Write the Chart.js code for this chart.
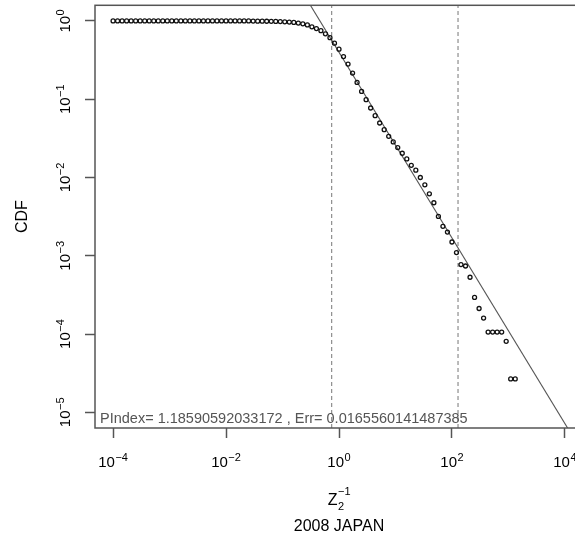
<!DOCTYPE html>
<html>
<head>
<meta charset="utf-8">
<title>CDF - 2008 JAPAN</title>
<script src="https://cdn.jsdelivr.net/npm/chart.js@4.4.1/dist/chart.umd.min.js"></script>
<style>
  html, body { margin: 0; padding: 0; background: #fff; overflow: hidden; }
  #wrap { width: 600px; height: 538px; }
</style>
</head>
<body>
<div id="wrap"><canvas id="cdfChart" width="600" height="538"></canvas></div>
<script>
// ==========================================
// 1. DATA
// ==========================================

// inverse Z_2 values (log spaced bins)
const zValues = [
  1.000e-4, 1.202e-4, 1.445e-4, 1.738e-4, 2.089e-4, 2.512e-4, 3.020e-4, 3.631e-4, 4.365e-4, 5.248e-4,
  6.310e-4, 7.586e-4, 9.120e-4, 1.096e-3, 1.318e-3, 1.585e-3, 1.905e-3, 2.291e-3, 2.754e-3, 3.311e-3,
  3.981e-3, 4.786e-3, 5.754e-3, 6.918e-3, 8.318e-3, 1.000e-2, 1.202e-2, 1.445e-2, 1.738e-2, 2.089e-2,
  2.512e-2, 3.020e-2, 3.631e-2, 4.365e-2, 5.248e-2, 6.310e-2, 7.586e-2, 9.120e-2, 0.1096, 0.1318,
  0.1585, 0.1905, 0.2291, 0.2754, 0.3311, 0.3981, 0.4786, 0.5754, 0.6918, 0.8318,
  1.000, 1.202, 1.445, 1.738, 2.089, 2.512, 3.020, 3.631, 4.365, 5.248,
  6.310, 7.586, 9.120, 10.96, 13.18, 15.85, 19.05, 22.91, 27.54, 33.11,
  39.81, 47.86, 57.54, 69.18, 83.18, 100.0, 120.2, 144.5, 173.8, 208.9,
  251.2, 302.0, 363.1, 436.5, 524.8, 631.0, 758.6, 912.0, 1096, 1318
];

// complementary cumulative share for each bin
const cdfValues = [
  1, 1, 1, 1, 1, 1, 1, 1, 1, 1,
  1, 1, 1, 1, 1, 1, 1, 1, 1, 1,
  1, 1, 1, 1, 1, 1, 1, 1, 1, 1,
  1, 0.997, 0.995, 0.994, 0.992, 0.990, 0.986, 0.981, 0.975, 0.967,
  0.957, 0.940, 0.918, 0.890, 0.842, 0.800, 0.752, 0.684, 0.612, 0.520,
  0.436, 0.351, 0.281, 0.216, 0.164, 0.126, 0.0986, 0.0773, 0.0616, 0.0497,
  0.0409, 0.0336, 0.0285, 0.0241, 0.0204, 0.0173, 0.0143, 0.0124, 0.0100, 0.00807,
  0.00619, 0.00476, 0.00318, 0.00238, 0.00201, 0.00150, 0.00110, 0.000773, 0.000741, 0.000532,
  0.000294, 0.000212, 0.000160, 0.000106, 0.000106, 0.000106, 0.000106, 0.0000807, 0.0000267, 0.0000267
];

// axis decades
const xTickExps = [-4, -2, 0, 2, 4];
const yTickExps = [-5, -4, -3, -2, -1, 0];

// fit window (dashed cut lines)
const cutLow = 0.743;
const cutHigh = 128;

// power-law fit
const pIndex = 1.18590592033172;
const pErr = 0.0165560141487385;
const fitScale = 0.398;
const fitX = [0.1, 100000];

const yTitle = 'CDF';
const subTitle = '2008 JAPAN';

// ==========================================
// 2. CHART
// ==========================================

const xMin = Math.pow(10, -4.32), xMax = Math.pow(10, 4.32);
const yMin = Math.pow(10, -5.2), yMax = Math.pow(10, 0.2);
const axisColor = '#555';
const fontFamily = "'Liberation Sans', Arial, Helvetica, sans-serif";

// draws "10" with a raised exponent, centred on x
function drawPower(ctx, x, y, exp, size) {
  const baseFont = size + 'px ' + fontFamily;
  const expFont = Math.round(size * 0.73) + 'px ' + fontFamily;
  const expText = (exp < 0 ? '\u2212' : '') + Math.abs(exp);
  ctx.font = baseFont;
  const wBase = ctx.measureText('10').width;
  ctx.font = expFont;
  const wExp = ctx.measureText(expText).width;
  const start = x - (wBase + wExp + 0.5) / 2;
  ctx.textAlign = 'left';
  ctx.textBaseline = 'alphabetic';
  ctx.font = baseFont;
  ctx.fillText('10', start, y);
  ctx.font = expFont;
  ctx.fillText(expText, start + wBase + 0.5, y - size * 0.38);
}

const rAxesPlugin = {
  id: 'rAxes',
  afterDraw(chart) {
    const ctx = chart.ctx;
    const area = chart.chartArea;
    const xs = chart.scales.x, ys = chart.scales.y;
    ctx.save();

    // plot frame
    ctx.strokeStyle = axisColor;
    ctx.lineWidth = 1.5;
    ctx.strokeRect(area.left, area.top, area.right - area.left, area.bottom - area.top);

    ctx.fillStyle = '#000';

    // x tick labels
    xs.ticks.forEach(t => {
      const px = xs.getPixelForValue(t.value);
      drawPower(ctx, px, area.bottom + 38.5, Math.round(Math.log10(t.value)), 15);
    });

    // y tick labels, rotated
    ys.ticks.forEach(t => {
      const py = ys.getPixelForValue(t.value);
      ctx.save();
      ctx.translate(area.left - 25, py);
      ctx.rotate(-Math.PI / 2);
      drawPower(ctx, 0, 0, Math.round(Math.log10(t.value)), 15);
      ctx.restore();
    });

    // y title
    ctx.save();
    ctx.translate(27, (area.top + area.bottom) / 2);
    ctx.rotate(-Math.PI / 2);
    ctx.font = '16px ' + fontFamily;
    ctx.textAlign = 'center';
    ctx.textBaseline = 'alphabetic';
    ctx.fillText(yTitle, 0, 0);
    ctx.restore();

    // x title: Z with subscript 2 and superscript -1
    const cx = (area.left + area.right) / 2;
    ctx.font = '16px ' + fontFamily;
    const wZ = ctx.measureText('Z').width;
    ctx.font = '11px ' + fontFamily;
    const wSup = ctx.measureText('\u22121').width;
    const zStart = cx - (wZ + wSup) / 2;
    ctx.textAlign = 'left';
    ctx.font = '16px ' + fontFamily;
    ctx.fillText('Z', zStart, area.bottom + 77);
    ctx.font = '11px ' + fontFamily;
    ctx.fillText('2', zStart + wZ + 0.5, area.bottom + 82);
    ctx.fillText('\u22121', zStart + wZ + 0.5, area.bottom + 67);

    // sub title
    ctx.font = '16px ' + fontFamily;
    ctx.textAlign = 'center';
    ctx.fillText(subTitle, cx, area.bottom + 102.5);

    // fit result
    ctx.fillStyle = '#555';
    ctx.font = '14.5px ' + fontFamily;
    ctx.textAlign = 'left';
    ctx.fillText('PIndex= ' + pIndex + ' , Err= ' + pErr, area.left + 5, area.bottom - 5);

    ctx.restore();
  }
};

function cutLine(x) {
  return {
    data: [{ x: x, y: yMin }, { x: x, y: yMax }],
    showLine: true,
    borderColor: '#777',
    borderWidth: 1,
    borderDash: [4, 3],
    pointRadius: 0
  };
}

const ctx = document.getElementById('cdfChart').getContext('2d');
const cdfChart = new Chart(ctx, {
  type: 'scatter',
  data: {
    datasets: [
      {
        label: 'CDF',
        data: zValues.map((z, i) => ({ x: z, y: cdfValues[i] })),
        pointStyle: 'circle',
        pointRadius: 2,
        pointBorderWidth: 1.3,
        borderColor: '#111',
        backgroundColor: 'rgba(0,0,0,0)'
      },
      {
        label: 'fit',
        data: fitX.map(x => ({ x: x, y: fitScale * Math.pow(x, -pIndex) })),
        showLine: true,
        borderColor: '#555',
        borderWidth: 1.1,
        pointRadius: 0
      },
      cutLine(cutLow),
      cutLine(cutHigh)
    ]
  },
  options: {
    responsive: false,
    animation: false,
    devicePixelRatio: 1,
    events: [],
    layout: { padding: { left: 0, top: 5, right: 17, bottom: 0 } },
    plugins: { legend: { display: false }, tooltip: { enabled: false } },
    scales: {
      x: {
        type: 'logarithmic',
        position: 'bottom',
        min: xMin,
        max: xMax,
        bounds: 'data',
        border: { display: false },
        grid: { drawOnChartArea: false, drawTicks: true, tickLength: 10, tickColor: axisColor, tickWidth: 1.5 },
        ticks: { display: false },
        afterBuildTicks: s => { s.ticks = xTickExps.map(e => ({ value: Math.pow(10, e) })); },
        afterFit: s => { s.height = 110; }
      },
      y: {
        type: 'logarithmic',
        position: 'left',
        min: yMin,
        max: yMax,
        bounds: 'data',
        border: { display: false },
        grid: { drawOnChartArea: false, drawTicks: true, tickLength: 10, tickColor: axisColor, tickWidth: 1.5 },
        ticks: { display: false },
        afterBuildTicks: s => { s.ticks = yTickExps.map(e => ({ value: Math.pow(10, e) })); },
        afterFit: s => { s.width = 95; }
      }
    }
  },
  plugins: [rAxesPlugin]
});
</script>
</body>
</html>
